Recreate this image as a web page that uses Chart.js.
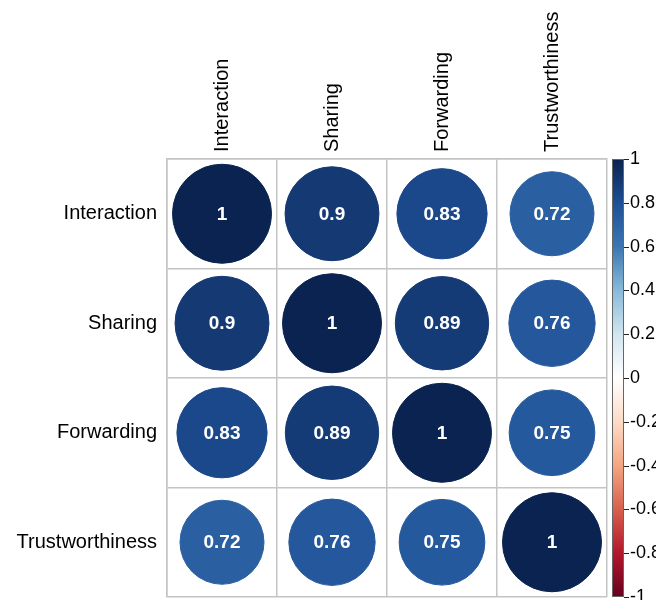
<!DOCTYPE html>
<html>
<head>
<meta charset="utf-8">
<script src="https://cdn.jsdelivr.net/npm/chart.js@4"></script>
<style>
html, body { margin: 0; padding: 0; background: #fff; }
#wrap { width: 656px; height: 600px; }
</style>
</head>
<body>
<div id="wrap"><canvas id="chart" width="656" height="600"></canvas></div>
<script>
var variables = ['Interaction', 'Sharing', 'Forwarding', 'Trustworthiness'];
var interaction = [1, 0.9, 0.83, 0.72];
var sharing = [0.9, 1, 0.89, 0.76];
var forwarding = [0.83, 0.89, 1, 0.75];
var trustworthiness = [0.72, 0.76, 0.75, 1];
var legendTicks = [-1, -0.8, -0.6, -0.4, -0.2, 0, 0.2, 0.4, 0.6, 0.8, 1];

// red-white-blue ramp, from -1 to 1 (blue end tuned to the picture)
var palette = ['#67001F', '#B2182B', '#D6604D', '#F4A582', '#FDDBC7', '#FFFFFF',
               '#D1E5F0', '#88BAD9', '#3B76B3', '#1E4F95', '#0A2350'];

var fontFamily = '"Liberation Sans", Arial, Helvetica, sans-serif';
var gridColour = '#c4c4c4';

function hexToRgb(h) {
    return [parseInt(h.substr(1, 2), 16), parseInt(h.substr(3, 2), 16), parseInt(h.substr(5, 2), 16)];
}

function colourFor(v) {
    var t = (v + 1) / 2 * (palette.length - 1);
    var i = Math.min(Math.floor(t), palette.length - 2);
    var f = t - i;
    var a = hexToRgb(palette[i]), b = hexToRgb(palette[i + 1]);
    var c = a.map((x, k) => Math.round(x + (b[k] - x) * f));
    return 'rgb(' + c.join(',') + ')';
}

var rows = [interaction, sharing, forwarding, trustworthiness];
var points = [];
rows.forEach(function(row, i) {
    row.forEach(function(v, j) {
        points.push({x: variables[j], y: variables[i], v: v});
    });
});

function cellSize(chart) {
    var a = chart.chartArea;
    return a ? (a.right - a.left) / variables.length : 0;
}

// keep the axes from pushing the plot area around
function noPadding(s) {
    s.paddingTop = 0; s.paddingBottom = 0; s.paddingLeft = 0; s.paddingRight = 0;
}

// numbers inside the circles
var valueLabels = {
    id: 'valueLabels',
    afterDatasetsDraw: function(chart) {
        var ctx = chart.ctx;
        var meta = chart.getDatasetMeta(0);
        ctx.save();
        ctx.fillStyle = '#fff';
        ctx.font = 'bold 19px ' + fontFamily;
        ctx.textAlign = 'center';
        ctx.textBaseline = 'middle';
        meta.data.forEach(function(pt, i) {
            ctx.fillText(String(points[i].v), pt.x, pt.y + 1);
        });
        ctx.restore();
    }
};

// gradient bar for the colour legend axis
var colourBar = {
    id: 'colourBar',
    afterDraw: function(chart) {
        var s = chart.scales.cbar;
        var ctx = chart.ctx;
        var x0 = s.left + 5, w = 12;
        var top = s.getPixelForValue(1), bottom = s.getPixelForValue(-1);
        var g = ctx.createLinearGradient(0, bottom, 0, top);
        palette.forEach(function(c, i) { g.addColorStop(i / (palette.length - 1), c); });
        ctx.save();
        ctx.fillStyle = g;
        ctx.fillRect(x0, top, w, bottom - top);
        ctx.strokeStyle = '#666';
        ctx.lineWidth = 1;
        ctx.strokeRect(x0 + 0.5, top + 0.5, w - 1, bottom - top - 1);
        ctx.strokeStyle = '#222';
        s.ticks.forEach(function(t) {
            var y = Math.round(s.getPixelForValue(t.value)) + 0.5;
            ctx.beginPath();
            ctx.moveTo(x0 + w, y);
            ctx.lineTo(x0 + w + 5, y);
            ctx.stroke();
        });
        ctx.restore();
    }
};

var chart = new Chart(document.getElementById('chart').getContext('2d'), {
    type: 'scatter',
    data: {
        datasets: [{
            data: points,
            pointBackgroundColor: ctx => ctx.raw ? colourFor(ctx.raw.v) : '#0A2350',
            pointBorderColor: ctx => ctx.raw ? colourFor(ctx.raw.v) : '#0A2350',
            pointBorderWidth: 1,
            pointRadius: function(ctx) {
                if (!ctx.raw) return 3;
                return 0.45 * cellSize(ctx.chart) * Math.sqrt(Math.abs(ctx.raw.v));
            }
        }]
    },
    options: {
        responsive: false,
        animation: false,
        events: [],
        layout: { autoPadding: false, padding: { top: 0, left: 0, right: 0, bottom: 3 } },
        plugins: {
            legend: { display: false },
            tooltip: { enabled: false }
        },
        scales: {
            x: {
                type: 'category',
                labels: variables,
                position: 'top',
                offset: true,
                grid: { offset: true, color: gridColour, lineWidth: 1.5, drawTicks: false },
                border: { display: true, color: gridColour, width: 1.5 },
                ticks: {
                    minRotation: 90, maxRotation: 90, autoSkip: false, padding: 7, labelOffset: 24,
                    color: '#000', font: { size: 20, family: fontFamily }
                },
                afterFit: function(s) { s.height = 159; noPadding(s); }
            },
            y: {
                type: 'category',
                labels: variables,
                offset: true,
                grid: { offset: true, color: gridColour, lineWidth: 1.5, drawTicks: false },
                border: { display: true, color: gridColour, width: 1.5 },
                ticks: {
                    autoSkip: false, padding: 10,
                    color: '#000', font: { size: 20, family: fontFamily }
                },
                afterFit: function(s) { s.width = 167; noPadding(s); }
            },
            cbar: {
                type: 'linear',
                position: 'right',
                min: -1,
                max: 1,
                afterBuildTicks: function(s) {
                    s.ticks = legendTicks.map(v => ({ value: v }));
                },
                afterFit: function(s) { s.width = 49; noPadding(s); },
                grid: { drawOnChartArea: false, drawTicks: false },
                border: { display: false },
                ticks: {
                    autoSkip: false, padding: 23,
                    color: '#000', font: { size: 18, family: fontFamily },
                    callback: v => String(v)
                }
            }
        }
    },
    plugins: [valueLabels, colourBar]
});
</script>
</body>
</html>
